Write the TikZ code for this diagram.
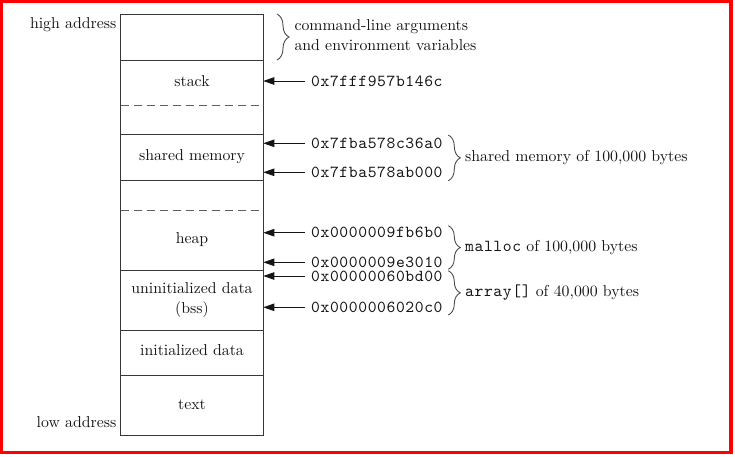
\documentclass[tikz,border=0pt]{standalone}
\usepackage{fontspec}
\setmainfont{lmroman10-regular}[Extension=.otf]
\newfontfamily\addrfont{lmmono10-regular}[Extension=.otf, LetterSpace=3.6]
\usetikzlibrary{arrows.meta,decorations.pathreplacing}
\definecolor{framered}{RGB}{255,0,0}
\definecolor{linegray}{RGB}{55,55,55}
\definecolor{dashgray}{RGB}{95,95,95}
\definecolor{inkblack}{RGB}{20,20,20}
\newcommand{\addrsize}{\addrfont\fontsize{16.8}{18}\selectfont}
\tikzset{
  lbl/.style={inner sep=0pt, text=inkblack, font=\fontsize{15.8}{20.5}\selectfont},
  addr/.style={anchor=west, inner xsep=6pt, inner ysep=0pt, text height=10.2pt, text depth=0pt,
               text=inkblack, font=\addrsize},
  seg/.style={draw=linegray, line width=1pt},
  sepline/.style={draw=dashgray, line width=1pt, dash pattern=on 8pt off 5pt},
  ptr/.style={draw=inkblack, line width=0.9pt, -{Triangle[length=11pt,width=7.5pt]}},
  brc/.style={draw=black!70, line width=0.9pt, decorate, decoration={brace, amplitude=12pt}},
}
\begin{document}
\begin{tikzpicture}[x=1pt,y=-1pt]
\useasboundingbox (0,0) rectangle (735,456);
\draw[framered, line width=3.3pt] (1.7,1.7) rectangle (731,452.5);

% memory column
\draw[seg] (120.7,14) rectangle (263.3,435);
\foreach \y in {60,134,180,270,330,375} \draw[seg] (120.7,\y) -- (263.3,\y);
\foreach \y in {105,210} \draw[sepline] (120.7,\y) -- (263.3,\y);

% segment labels
\node[lbl, anchor=base] (stack) at (192,86) {stack};
\node[lbl, anchor=base] (shm) at (192,160.7) {shared memory};
\node[lbl, anchor=base] (heap) at (192,243.3) {heap};
\node[lbl, align=center] (bss) at (192,299.8) {uninitialized data\\(bss)};
\node[lbl, anchor=base] (init) at (192,355) {initialized data};
\node[lbl, anchor=base] (txt) at (192,409.3) {text};
\node[lbl, anchor=base east] (hi) at (116.5,28.3) {high address};
\node[lbl, anchor=base east] (lo) at (116.5,427.7) {low address};

% command-line brace
\draw[brc] (277,14) -- (277,60);
\node[lbl, anchor=base west, align=left] (args) at (294.3,50.7) {command-line arguments\\and environment variables};

% address pointers
\coordinate (p1) at (263.3,81);
\coordinate (p2) at (263.3,143.3);
\coordinate (p3) at (263.3,172.3);
\coordinate (p4) at (263.3,232.7);
\coordinate (p5) at (263.3,262.3);
\coordinate (p6) at (263.3,276);
\coordinate (p7) at (263.3,307.3);
\node[addr] (a1) at (305,81) {0x7fff957b146c};
\node[addr] (a2) at (305,143.3) {0x7fba578c36a0};
\node[addr] (a3) at (305,172.3) {0x7fba578ab000};
\node[addr] (a4) at (305,232.7) {0x0000009fb6b0};
\node[addr] (a5) at (305,262.3) {0x0000009e3010};
\node[addr] (a6) at (305,276) {0x00000060bd00};
\node[addr] (a7) at (305,307.3) {0x0000006020c0};
\foreach \i in {1,...,7} \draw[ptr] (a\i.west) -- (p\i);

% range braces
\draw[brc] (448.3,135) -- (448.3,180.7);
\draw[brc] (448.3,225.7) -- (448.3,269.3);
\draw[brc] (448.3,270.7) -- (448.3,315);
\node[lbl, anchor=base west] (r1) at (465,161.7) {shared memory of 100,000 bytes};
\node[lbl, anchor=base west] (r2) at (465,251.7) {{\addrsize malloc} of 100,000 bytes};
\node[lbl, anchor=base west] (r3) at (465,296.7) {{\addrsize array[]} of 40,000 bytes};
\end{tikzpicture}
\end{document}
